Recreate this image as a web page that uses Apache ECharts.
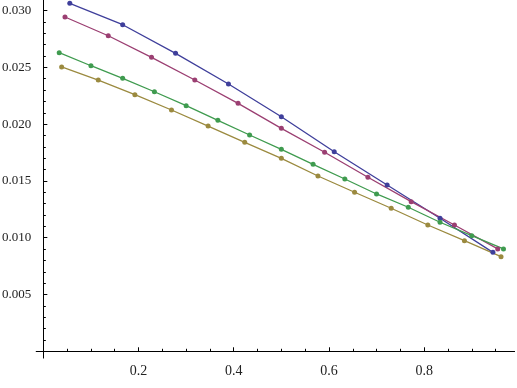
<!DOCTYPE html>
<html>
<head>
<meta charset="utf-8">
<script src="https://cdn.jsdelivr.net/npm/echarts@6/dist/echarts.min.js"></script>
<style>html,body{margin:0;padding:0;background:#fff}#c{width:517px;height:388px}</style>
</head>
<body>
<div id="c"></div>
<script>
// x positions: bin midpoints
const blueX = [1,3,5,7,9,11,13,15,17].map(v => v / 18);
const blueY = [0.03063,0.02875,0.02623,0.02353,0.02065,0.01757,0.01464,0.01171,0.00871];
const purpleX = [1,3,5,7,9,11,13,15,17,19,21].map(v => v / 22);
const purpleY = [0.02943,0.02778,0.02588,0.02388,0.02183,0.01963,0.01752,0.01532,0.01317,0.01112,0.00901];
const ochreX = [1,3,5,7,9,11,13,15,17,19,21,23,25].map(v => v / 26);
const ochreY = [0.02503,0.02388,0.02259,0.02124,0.01983,0.01840,0.01699,0.01543,0.01400,0.01259,0.01112,0.00974,0.00833];
const greenX = [1,3,5,7,9,11,13,15,17,19,21,23,25,27,29].map(v => v / 30);
const greenY = [0.02629,0.02514,0.02403,0.02285,0.02162,0.02033,0.01904,0.01778,0.01646,0.01517,0.01385,0.01268,0.01136,0.01018,0.00901];

const xMajorTicks = [0, 0.2, 0.4, 0.6, 0.8];
const xLabels = [0.2, 0.4, 0.6, 0.8];
const xMinorTicks = [0.05,0.1,0.15,0.25,0.3,0.35,0.45,0.5,0.55,0.65,0.7,0.75,0.85,0.9,0.95];
const yMajorTicks = [0, 0.005, 0.010, 0.015, 0.020, 0.025, 0.030];
const yLabels = [0.005, 0.010, 0.015, 0.020, 0.025, 0.030];
const yMinorTicks = [];
for (let i = 1; i <= 30; i++) { if (i % 5 !== 0) yMinorTicks.push(+(i * 0.001).toFixed(3)); }

const font = 'Liberation Serif';
const seriesDefs = [
  { x: blueX, y: blueY, color: '#3f3f9b' },
  { x: purpleX, y: purpleY, color: '#9b3f72' },
  { x: ochreX, y: ochreY, color: '#9b8a3f' },
  { x: greenX, y: greenY, color: '#3f9b4f' }
];

const chart = echarts.init(document.getElementById('c'), null, { renderer: 'canvas' });
const xBase = {
  type: 'value', min: -0.015, max: 0.99, position: 'bottom',
  splitLine: { show: false },
  axisLine: { onZero: true, onZeroAxisIndex: 0, lineStyle: { color: '#000', width: 1 } }
};
const yBase = {
  type: 'value', min: -0.0006, max: 0.0309, position: 'left',
  splitLine: { show: false },
  axisLine: { onZero: true, onZeroAxisIndex: 0, lineStyle: { color: '#000', width: 1 } }
};
chart.setOption({
  animation: false,
  backgroundColor: '#fff',
  textStyle: { fontFamily: font },
  grid: { left: 36.2, right: 2.4, top: 0.3, bottom: 29.9, containLabel: false, outerBoundsMode: 'none' },
  xAxis: [
    Object.assign({}, xBase, {
      axisTick: { show: true, inside: true, length: 4, customValues: xMajorTicks, lineStyle: { color: '#000' } },
      axisLabel: { show: true, customValues: xLabels, margin: 6, color: '#222', fontFamily: font, fontSize: 14,
        formatter: v => v.toFixed(1) }
    }),
    Object.assign({}, xBase, {
      axisLine: { show: false, onZero: true, onZeroAxisIndex: 0 },
      axisTick: { show: true, inside: true, length: 2.5, customValues: xMinorTicks, lineStyle: { color: '#000' } },
      axisLabel: { show: false }
    })
  ],
  yAxis: [
    Object.assign({}, yBase, {
      axisTick: { show: true, inside: true, length: 4, customValues: yMajorTicks, lineStyle: { color: '#000' } },
      axisLabel: { show: true, customValues: yLabels, margin: 5, color: '#222', fontFamily: font, fontSize: 13,
        formatter: v => v.toFixed(3) }
    }),
    Object.assign({}, yBase, {
      axisLine: { show: false, onZero: true, onZeroAxisIndex: 0 },
      axisTick: { show: true, inside: true, length: 2.5, customValues: yMinorTicks, lineStyle: { color: '#000' } },
      axisLabel: { show: false }
    })
  ],
  series: seriesDefs.map(s => ({
    type: 'line',
    xAxisIndex: 0, yAxisIndex: 0,
    data: s.x.map((xv, i) => [xv, s.y[i]]),
    symbol: 'circle', symbolSize: 5, showSymbol: true,
    lineStyle: { color: s.color, width: 1.3 },
    itemStyle: { color: s.color },
    emphasis: { disabled: true }
  }))
});
</script>
</body>
</html>
